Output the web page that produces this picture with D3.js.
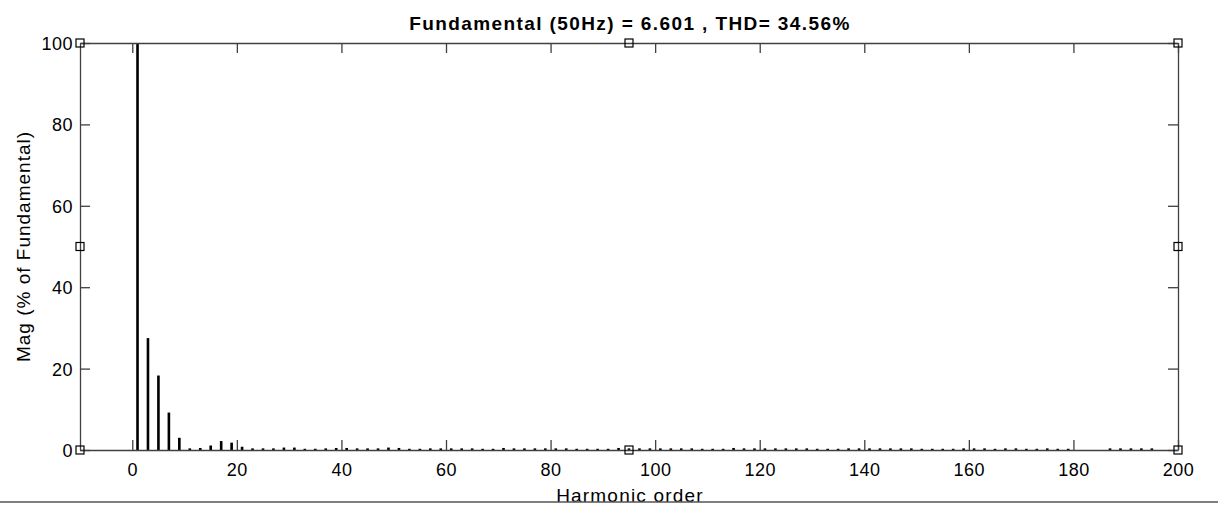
<!DOCTYPE html>
<html><head><meta charset="utf-8">
<script src="https://cdn.jsdelivr.net/npm/d3@7"></script>
<style>
html,body{margin:0;padding:0;background:#fff;}
text{font-family:"Liberation Sans",Arial,Helvetica,sans-serif;fill:#000;}
</style></head>
<body>
<svg id="chart" width="1218" height="505"></svg>
<script>
// Harmonic orders (odd harmonics carry the spectrum)
const harmonics = d3.range(1, 200, 2);
// Magnitude (% of fundamental) for each odd harmonic 1,3,5,...,199
const magnitudes = [
  100, 27.5, 18.3, 9.2, 3.0, 0.4, 0.5, 1.1, 2.2, 1.8,
  0.8, 0.4, 0.4, 0.4, 0.6, 0.6, 0.3, 0.3, 0.4, 0.5,
  0.5, 0.4, 0.4, 0.4, 0.6, 0.5, 0.3, 0.3, 0.4, 0.4,
  0.4, 0.4, 0.4, 0.3, 0.3, 0.5, 0.4, 0.4, 0.4, 0.4,
  0.4, 0.4, 0.3, 0.3, 0.3, 0.3, 0.5, 0.4, 0.4, 0.4,
  0.4, 0.4, 0.4, 0.4, 0.3, 0.3, 0.3, 0.5, 0.4, 0.4,
  0.4, 0.4, 0.4, 0.4, 0.4, 0.3, 0.3, 0.3, 0.4, 0.4,
  0.4, 0.4, 0.4, 0.4, 0.4, 0.3, 0.3, 0.3, 0.3, 0.4,
  0.4, 0.4, 0.3, 0.4, 0.4, 0.3, 0.3, 0.4, 0.3, 0.3,
  0.0, 0.0, 0.0, 0.4, 0.4, 0.4, 0.4, 0.4, 0.0, 0.0
];
const xTicks = [0, 20, 40, 60, 80, 100, 120, 140, 160, 180, 200];
const yTicks = [0, 20, 40, 60, 80, 100];
// square markers placed on the axes frame
const markerX = [-10, -10, -10, 95, 95, 200, 200, 200];
const markerY = [0, 50, 100, 100, 0, 100, 50, 0];
const titleText = "Fundamental (50Hz) = 6.601 , THD= 34.56%";
const xLabel = "Harmonic order";
const yLabel = "Mag (% of Fundamental)";

const svg = d3.select("#chart");
const pL = 80, pR = 1178, pT = 43, pB = 450;
const x = d3.scaleLinear().domain([-10, 200]).range([pL, pR]);
const y = d3.scaleLinear().domain([0, 100]).range([pB, pT]);
const axisColor = "#404040";

// bars
const bw = 0.5 * (x(1) - x(0));
svg.append("g").selectAll("rect").data(harmonics.map((h, i) => ({h, v: magnitudes[i]})))
  .enter().append("rect")
  .attr("x", d => x(d.h) - bw / 2)
  .attr("width", bw)
  .attr("y", d => y(d.v))
  .attr("height", d => y(0) - y(d.v))
  .attr("fill", "#000");

// axes
const tickLen = 10;
const gB = svg.append("g").attr("transform", `translate(0,${pB})`)
  .call(d3.axisBottom(x).tickValues(xTicks).tickSize(-tickLen).tickPadding(13).tickSizeOuter(0));
const gT = svg.append("g").attr("transform", `translate(0,${pT})`)
  .call(d3.axisTop(x).tickValues(xTicks).tickSize(-tickLen).tickFormat("").tickSizeOuter(0));
const gL = svg.append("g").attr("transform", `translate(${pL},0)`)
  .call(d3.axisLeft(y).tickValues(yTicks).tickSize(-tickLen).tickPadding(7).tickSizeOuter(0));
const gR = svg.append("g").attr("transform", `translate(${pR},0)`)
  .call(d3.axisRight(y).tickValues(yTicks).tickSize(-tickLen).tickFormat("").tickSizeOuter(0));
[gB, gT, gL, gR].forEach(g => {
  g.selectAll(".domain").attr("stroke", axisColor).attr("stroke-width", 1.3);
  g.selectAll(".tick line").attr("stroke", axisColor).attr("stroke-width", 1.3);
  g.selectAll("text").style("font-size", "18px").style("letter-spacing", "0.5px")
    .style("font-family", "'Liberation Sans',Arial,sans-serif").attr("fill", "#000");
});
gB.selectAll("text").attr("dy", "0.71em");
gL.selectAll(".tick text").attr("dy", "0.36em");

// markers
const ms = 8;
svg.append("g").selectAll("rect").data(markerX.map((mx, i) => [mx, markerY[i]]))
  .enter().append("rect")
  .attr("x", d => x(d[0]) - ms / 2).attr("y", d => y(d[1]) - ms / 2)
  .attr("width", ms).attr("height", ms)
  .attr("fill", "none").attr("stroke", "#000").attr("stroke-width", 1.2);

// title
svg.append("text").attr("x", 630).attr("y", 30).attr("text-anchor", "middle")
  .style("font-size", "19px").style("font-weight", "bold").style("letter-spacing", "1.4px").text(titleText);
// x label
svg.append("text").attr("x", 630).attr("y", 502).attr("text-anchor", "middle")
  .style("font-size", "19px").style("letter-spacing", "1.2px").text(xLabel);
// y label
svg.append("text").attr("transform", `translate(30,${(pT + pB) / 2}) rotate(-90)`)
  .attr("text-anchor", "middle").style("font-size", "19px").style("letter-spacing", "1px").text(yLabel);
// bottom rule
svg.append("line").attr("x1", 0).attr("x2", 1218).attr("y1", 502).attr("y2", 502)
  .attr("stroke", "#555").attr("stroke-width", 1.5);
</script>
</body></html>
